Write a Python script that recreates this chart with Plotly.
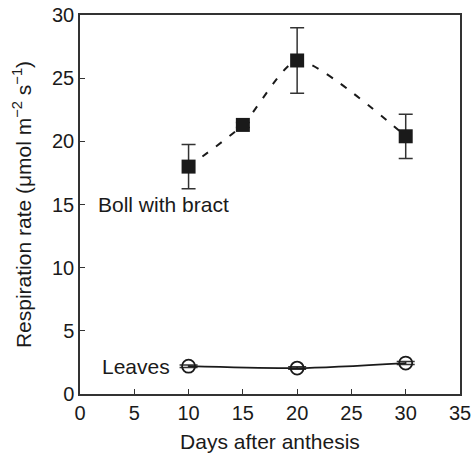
import plotly.graph_objects as go

days = [10, 15, 20, 30]
boll = [18.0, 21.3, 26.4, 20.4]
boll_err = [1.75, 0.2, 2.6, 1.75]
leaves = [2.2, 2.05, 2.45]
leaves_days = [10, 20, 30]
leaves_err = [0.1, 0.1, 0.12]

x_ticks = [0, 5, 10, 15, 20, 25, 30, 35]
y_ticks = [0, 5, 10, 15, 20, 25, 30]

FONT = "Liberation Sans, Arial, sans-serif"
FS = 20
FT = 21
fig = go.Figure()

fig.add_trace(go.Scatter(
    x=days, y=boll, mode="lines", line=dict(color="#1a1a1a", width=2, dash="7px,10px", shape="spline", smoothing=0.6),
    showlegend=False, hoverinfo="skip"))
fig.add_trace(go.Scatter(
    x=days, y=boll, mode="markers",
    marker=dict(symbol="square", size=14, color="#1a1a1a"),
    error_y=dict(type="data", array=boll_err, color="#333333", thickness=1.5, width=7),
    showlegend=False))

fig.add_trace(go.Scatter(
    x=leaves_days, y=leaves, mode="lines+markers",
    line=dict(color="#1a1a1a", width=1.8, shape="spline", smoothing=0.8),
    marker=dict(symbol="circle-open", size=13, color="#1a1a1a", line=dict(width=1.8)),
    error_y=dict(type="data", array=leaves_err, color="#333333", thickness=1.5, width=9),
    showlegend=False))

fig.add_annotation(x=7.65, y=15.0, text="Boll with bract", showarrow=False,
                   font=dict(family=FONT, size=FT, color="#1a1a1a"))
fig.add_annotation(x=8.5, y=2.2, text="Leaves", showarrow=False, xanchor="right",
                   font=dict(family=FONT, size=FT, color="#1a1a1a"))

axis_common = dict(showline=True, linecolor="#333333", linewidth=1.5, mirror=True,
                   ticks="inside", ticklen=5, tickwidth=1.2, tickcolor="#333333",
                   showgrid=False, zeroline=False, automargin=False,
                   tickfont=dict(family=FONT, size=FS, color="#1a1a1a"))

fig.update_layout(
    width=472, height=455,
    margin=dict(l=80, r=12, t=15, b=61),
    paper_bgcolor="white", plot_bgcolor="white",
    xaxis=dict(range=[0, 35], tickvals=x_ticks,
               title=dict(text="Days after anthesis", font=dict(family=FONT, size=FT, color="#1a1a1a"), standoff=12),
               **axis_common),
    yaxis=dict(range=[0, 30], tickvals=y_ticks,
               title=dict(text="Respiration rate (μmol m<sup>−2</sup> s<sup>−1</sup>)",
                          font=dict(family=FONT, size=FT, color="#1a1a1a"), standoff=15),
               **axis_common),
)

fig.write_html("out.html", config={"displayModeBar": False},
               post_script="document.body.style.margin='0';")
